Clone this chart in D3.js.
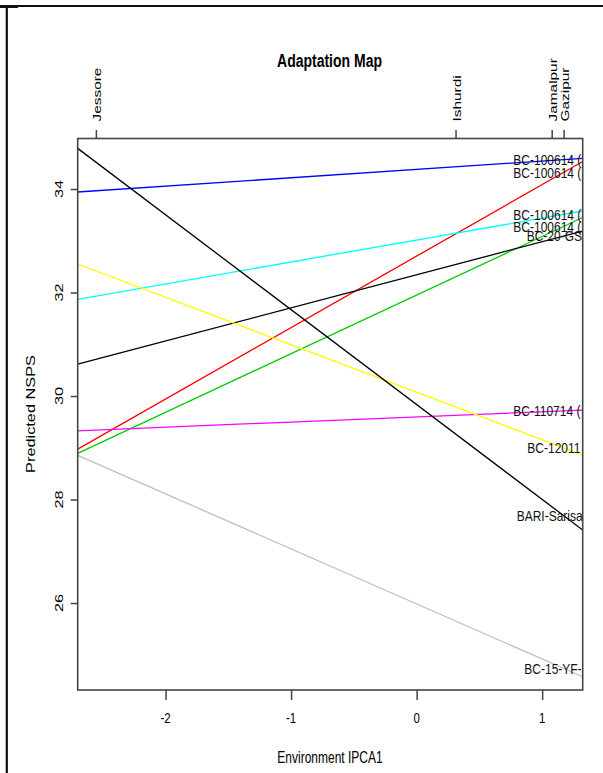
<!DOCTYPE html>
<html>
<head>
<meta charset="utf-8">
<script src="https://cdn.jsdelivr.net/npm/d3@7/dist/d3.min.js"></script>
<style>
  html, body { margin: 0; padding: 0; background: #fff; }
  svg { display: block; font-family: "Liberation Sans", Arial, Helvetica, sans-serif; }
</style>
</head>
<body>
<svg id="chart" width="603" height="773"></svg>
<script>
// Genotype response lines: predicted NSPS = intercept + slope * environment IPCA1 score
const genotypes  = ["BC-100614 (", "BC-100614 (", "BC-100614 (", "BC-100614 (", "BC-20-GS",
                    "BC-110714 (", "BC-12011", "BARI-Sarisa", "BC-15-YF-"];
const intercepts = [34.379, 32.704, 33.014, 31.951, 32.343, 29.597, 30.074, 29.836, 25.983];
const slopes     = [0.1618, 1.381, 0.424, 1.1325, 0.639, 0.0994, -0.9175, -1.833, -1.0636];
const lineColors = ["#0000ff", "#ff0000", "#00ffff", "#00cd00", "#000000",
                    "#ff00ff", "#ffff00", "#000000", "#bebebe"];

// Environments and their IPCA1 scores (top axis)
const environments = ["Jessore", "Ishurdi", "Jamalpur", "Gazipur"];
const envScores    = [-2.555, 0.31, 1.076, 1.171];

// Axis ticks
const xTicks = [-2, -1, 0, 1];
const yTicks = [26, 28, 30, 32, 34];

// Layout
const margin = { left: 77.7, right: 582.7, top: 138.5, bottom: 690 };
const labelShift = [-38.4, -38.4, -38.4, -38.4, -25, -38.4, -24.4, -35, -27.4]; // label start vs. anchor
const stretch = 1.35;

const svg = d3.select("#chart");

const x = d3.scaleLinear().domain([-2.70, 1.323]).range([margin.left, margin.right]);
const y = d3.scaleLinear().domain([24.32, 34.976]).range([margin.bottom, margin.top]);

// Page frame
svg.append("line").attr("x1", 0).attr("x2", 603).attr("y1", 6).attr("y2", 6)
  .attr("stroke", "#111").attr("stroke-width", 2);
svg.append("line").attr("x1", 0).attr("x2", 18).attr("y1", 6.5).attr("y2", 6.5)
  .attr("stroke", "#111").attr("stroke-width", 3);
svg.append("line").attr("x1", 6.8).attr("x2", 6.8).attr("y1", 5).attr("y2", 773)
  .attr("stroke", "#111").attr("stroke-width", 2.2);

svg.append("defs").append("clipPath").attr("id", "plotClip")
  .append("rect")
  .attr("x", margin.left).attr("y", margin.top)
  .attr("width", margin.right - margin.left).attr("height", margin.bottom - margin.top);

// Helper for horizontally written text stretched vertically
function hText(parent, px, py, str, size, opts = {}) {
  return parent.append("text")
    .attr("transform", `translate(${px},${py}) scale(1,${opts.s || stretch})`)
    .attr("text-anchor", opts.anchor || "middle")
    .attr("font-size", size)
    .attr("font-weight", opts.weight || "normal")
    .attr("fill", opts.fill || "#000")
    .text(str);
}
// Helper for text rotated to read upward, stretched along its direction
function vText(parent, px, py, str, size, opts = {}) {
  return parent.append("text")
    .attr("transform", `translate(${px},${py}) rotate(-90) scale(${opts.s || stretch},1)`)
    .attr("text-anchor", opts.anchor || "middle")
    .attr("font-size", size)
    .attr("font-weight", opts.weight || "normal")
    .attr("fill", opts.fill || "#000")
    .text(str);
}

// Title
hText(svg, 329.5, 66.7, "Adaptation Map", 14, { weight: "bold" });

// Bottom axis
const xAxis = svg.append("g").attr("transform", `translate(0,${margin.bottom})`)
  .call(d3.axisBottom(x).tickValues(xTicks).tickSize(10).tickFormat(""));
xAxis.select(".domain").remove();
xAxis.selectAll(".tick line").attr("stroke", "#444").attr("stroke-width", 1.5);
xTicks.forEach(t => hText(svg, x(t), 723, t < 0 ? "-" + Math.abs(t) : String(t), 11.5));

// Left axis
const yAxis = svg.append("g").attr("transform", `translate(${margin.left},0)`)
  .call(d3.axisLeft(y).tickValues(yTicks).tickSize(7).tickFormat(""));
yAxis.select(".domain").remove();
yAxis.selectAll(".tick line").attr("stroke", "#444").attr("stroke-width", 1.5);
yTicks.forEach(t => vText(svg, 62.5, y(t), String(t), 11.5, { s: 1.42 }));

// Top axis: environments
const topAxis = svg.append("g").attr("transform", `translate(0,${margin.top})`)
  .call(d3.axisTop(x).tickValues(envScores).tickSize(8.5).tickFormat(""));
topAxis.select(".domain").remove();
topAxis.selectAll(".tick line").attr("stroke", "#444").attr("stroke-width", 1.5);
environments.forEach((e, i) =>
  vText(svg, x(envScores[i]) + 5, 121.5, e, 11, { anchor: "start", s: 1.4 }));

// Axis titles
hText(svg, 330, 763, "Environment IPCA1", 12, { s: 1.3 });
vText(svg, 35, 414, "Predicted NSPS", 12, { s: 1.36 });

// Genotype lines
const plot = svg.append("g").attr("clip-path", "url(#plotClip)");
const [x0, x1] = x.domain();
plot.selectAll("line.geno")
  .data(genotypes.map((g, i) => ({ g, a: intercepts[i], b: slopes[i], c: lineColors[i] })))
  .join("line")
  .attr("class", "geno")
  .attr("x1", x(x0)).attr("y1", d => y(d.a + d.b * x0))
  .attr("x2", x(x1)).attr("y2", d => y(d.a + d.b * x1))
  .attr("stroke", d => d.c)
  .attr("stroke-width", 1.3);

// Genotype labels at the highest-scoring environment
const labelX = d3.max(envScores);
const anchorX = x(envScores[2]);
genotypes.forEach((g, i) => {
  const v = intercepts[i] + slopes[i] * labelX;
  hText(plot, anchorX + labelShift[i], y(v) + 5.3, g, 12, { anchor: "start", s: 1.2, fill: "#111" });
});

// Plot box
svg.append("rect")
  .attr("x", margin.left).attr("y", margin.top)
  .attr("width", margin.right - margin.left).attr("height", margin.bottom - margin.top)
  .attr("fill", "none").attr("stroke", "#444").attr("stroke-width", 1.6);
</script>
</body>
</html>
